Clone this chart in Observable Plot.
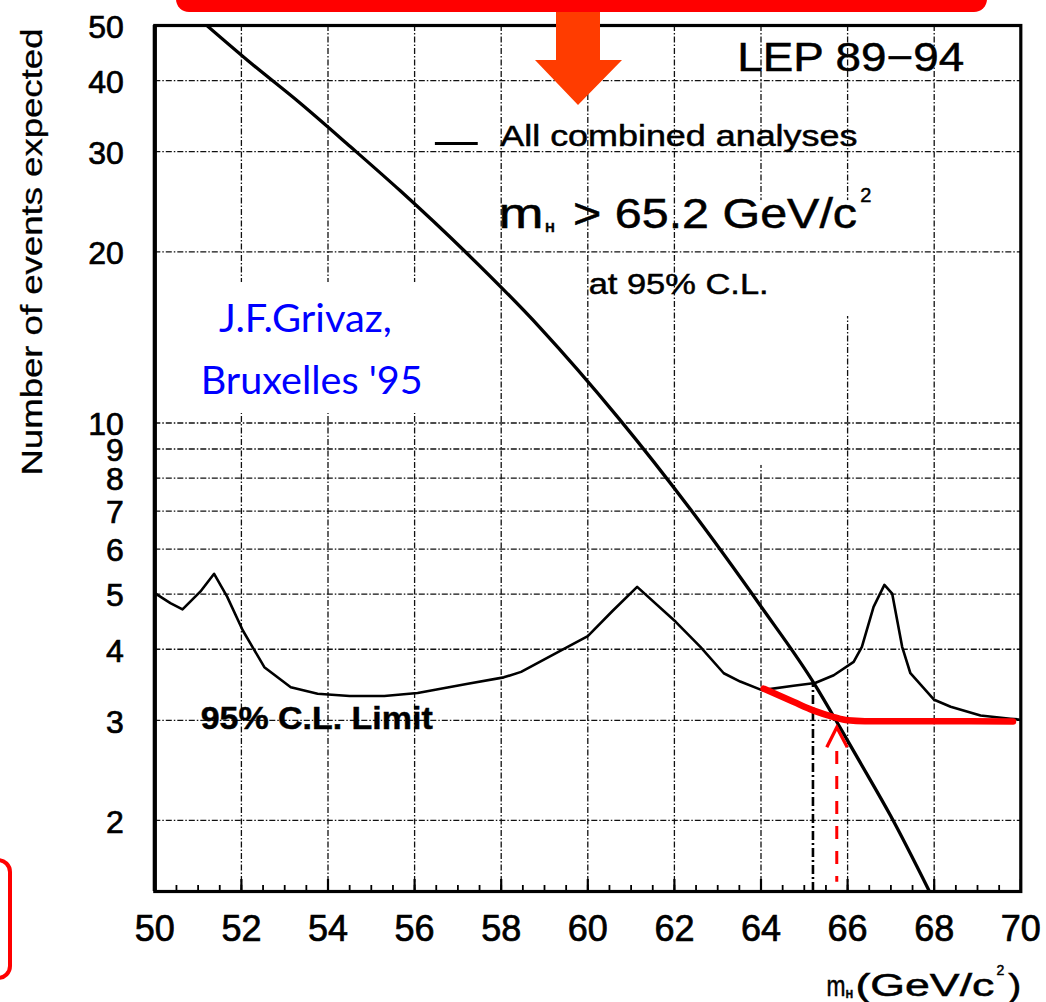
<!DOCTYPE html>
<html>
<head>
<meta charset="utf-8">
<script src="https://cdn.jsdelivr.net/npm/d3@7"></script>
<script src="https://cdn.jsdelivr.net/npm/@observablehq/plot@0.6"></script>
<style>
  html, body { margin: 0; padding: 0; background: #fff; }
  #wrap { position: relative; width: 1046px; height: 1002px; overflow: hidden; }
  #deco { position: absolute; left: 0; top: 0; pointer-events: none; }
  #chart [aria-label$="tick label"] text { stroke: #000; stroke-width: 0.7px; }
  #chart text[aria-label="ytick"] { stroke: #000; stroke-width: 0.7px; }
  #chart text[aria-label^="scan"] { stroke: #000; stroke-width: 0.5px; }
  #chart text[aria-label="scan-ytitle"] { stroke-width: 0.3px; }
</style>
</head>
<body>
<div id="wrap"></div>
<script>
// ---------- data ----------
// x axis: Higgs mass m_H (GeV/c^2)
const xTicks = [50, 52, 54, 56, 58, 60, 62, 64, 66, 68, 70];
const xGrid = [52, 54, 56, 58, 60, 62, 64, 66, 68];
const xMinorTicks = d3.range(50.5, 70, 0.5);
// y axis: number of events expected (log)
const yTicks = [2, 3, 4, 5, 6, 7, 8, 9, 10, 20, 30, 40, 50];
const yGrid = [2, 3, 4, 5, 6, 7, 8, 9, 10, 20, 30, 40];

// "All combined analyses" expected signal events
const expMass   = [51.2, 52.16, 53.36, 54.52, 55.67, 57.17, 58.90, 60.71, 62.37, 63.98, 65.25, 65.83, 66.29, 66.99, 67.91];
const expEvents = [50, 43.3, 36.5, 30.6, 25.6, 20.0, 14.7, 10.2, 7.05, 4.78, 3.46, 2.91, 2.53, 2.04, 1.49];

// 95% C.L. limit curve
const limMass   = [50, 50.36, 50.64, 51.05, 51.37, 51.67, 52.03, 52.53, 53.14, 53.76, 54.5, 55.3, 56.07, 57.23, 58.06, 58.46, 59.46, 60.0, 60.57, 61.14, 62.03, 62.6, 63.14, 63.52, 64.02, 64.75, 65.25, 65.68, 66.14, 66.33, 66.6, 66.85, 67.03, 67.26, 67.45, 68.0, 68.38, 69.07, 69.76, 69.95];
const limEvents = [5.02, 4.82, 4.70, 5.05, 5.43, 4.95, 4.32, 3.72, 3.43, 3.34, 3.31, 3.31, 3.35, 3.48, 3.57, 3.65, 4.01, 4.22, 4.67, 5.15, 4.47, 4.04, 3.63, 3.51, 3.39, 3.45, 3.49, 3.60, 3.80, 4.04, 4.75, 5.19, 5.01, 4.04, 3.63, 3.26, 3.17, 3.06, 3.02, 3.01];

// limit marker
const limitMass = 65.2;
const limitEvents = 3.48;

// red overlay: flattened limit (hand drawn)
const redMass   = [64.06, 64.76, 65.22, 65.68, 66.0, 66.4, 67.5, 68.6, 69.82];
const redEvents = [3.41, 3.23, 3.12, 3.04, 3.0, 2.99, 2.99, 2.99, 2.985];

// red dashed arrow
const arrowMass = 65.75;
const arrowBase = 1.557;
const arrowShaftTop = 2.645;
const arrowTip = 2.917;

// ---------- chart ----------
const expTable = expMass.map((m, i) => ({m, n: expEvents[i]}));
const limTable = limMass.map((m, i) => ({m, n: limEvents[i]}));
const redTable = redMass.map((m, i) => ({m, n: redEvents[i]}));

const stretch = [];
function txt(s, x, y, o = {}) {
  const {width, name, ...rest} = o;
  if (width) stretch.push([name, width]);
  return Plot.text([s], {
    x, y, text: d => d,
    textAnchor: "start", lineAnchor: "bottom",
    fill: "black", ariaLabel: () => name, ...rest
  });
}

const gridStyle = {stroke: "#111", strokeWidth: 1.3, strokeDasharray: "6,2,1.5,2"};
const chevron = {draw(ctx) { ctx.moveTo(-10, 20); ctx.lineTo(0, 0); ctx.lineTo(10.5, 20); }};
const blueFont = "Lato, 'Open Sans', sans-serif";

const chart = Plot.plot({
  width: 1046,
  height: 1002,
  marginLeft: 154.3,
  marginRight: 25.7,
  marginTop: 25,
  marginBottom: 111,
  style: {fontFamily: "'Liberation Sans', Arial, sans-serif", fontSize: "32px", background: "white", color: "black"},
  x: {domain: [50, 70], label: null},
  y: {type: "log", domain: [1.5, 50], label: null, axis: null},
  marks: [
    Plot.ruleX(xGrid, gridStyle),
    // white text-box masks of the original figure
    Plot.rect([0], {x1: 50.09, x2: 57.29, y1: 10.39, y2: 17.66, fill: "white"}),
    Plot.rect([0], {x1: 63.75, x2: 66.52, y1: 15.39, y2: 24.61, fill: "white"}),
    Plot.rect([0], {x1: 63.75, x2: 64.26, y1: 8.42, y2: 15.39, fill: "white"}),
    Plot.ruleY(yGrid, gridStyle),
    Plot.tickX(xMinorTicks, {x: d => d, insetTop: 860, strokeWidth: 1.8}),
    Plot.tickX(xTicks, {x: d => d, insetTop: 854, strokeWidth: 2.2}),
    Plot.frame({stroke: "black", strokeWidth: 3.2}),
    Plot.ruleX([50], {strokeWidth: 4.2}),
    Plot.ruleX([limitMass], {y1: 1.5, y2: limitEvents, strokeWidth: 2.6, strokeDasharray: "9,3,2,3"}),
    Plot.line(expTable, {x: "m", y: "n", strokeWidth: 3.3, curve: "monotone-x", clip: true}),
    Plot.line(limTable, {x: "m", y: "n", strokeWidth: 2.6, clip: true}),

    // original figure texts
    txt("LEP 89\u221294", 63.45, 41.55, {fontSize: 40, width: 227, name: "scan-lep"}),
    Plot.ruleY([31.0], {x1: 56.48, x2: 57.47, strokeWidth: 3}),
    txt("All combined analyses", 57.98, 30.67, {fontSize: 29, width: 357, name: "scan-all"}),
    txt("m", 57.94, 21.98, {fontSize: 42, width: 45, name: "scan-m1"}),
    txt("H", 59.02, 21.71, {fontSize: 13, fontWeight: "bold", name: "scan-h1"}),
    txt("> 65.2 GeV/c", 59.66, 21.98, {fontSize: 42, width: 284, name: "scan-lim"}),
    txt("2", 66.29, 24.42, {fontSize: 20, name: "scan-sup1"}),
    txt("at 95% C.L.", 60.02, 16.87, {fontSize: 30, width: 180, name: "scan-at"}),
    txt("95% C.L. Limit", 51.06, 2.899, {fontSize: 32, fontWeight: "bold", width: 232, name: "scan-cl"}),
    txt("Number of events expected", 47.18, 19.98, {fontSize: 30, width: 447, rotate: -90, textAnchor: "middle", lineAnchor: "middle", name: "scan-ytitle"}),
    txt("m", 65.51, 0.9843, {fontSize: 30, width: 19, name: "scan-m2"}),
    txt("H", 65.96, 0.9765, {fontSize: 10, fontWeight: "bold", name: "scan-h2"}),
    txt("(GeV/c", 66.18, 0.9843, {fontSize: 31, width: 139, name: "scan-unit"}),
    txt("2", 69.44, 1.068, {fontSize: 14, name: "scan-sup2"}),
    txt(")", 69.71, 0.9843, {fontSize: 31, width: 13, name: "scan-paren"}),

    // blue annotation
    txt("J.F.Grivaz,", 51.48, 14.44, {fontSize: 39, fontFamily: blueFont, fill: "#0000ff", width: 173, name: "blue1"}),
    txt("Bruxelles '95", 51.06, 11.25, {fontSize: 39, fontFamily: blueFont, fill: "#0000ff", width: 222, name: "blue2"}),

    // red overlay
    Plot.line(redTable, {x: "m", y: "n", stroke: "#ff0000", strokeWidth: 6.5, curve: "monotone-x"}),
    Plot.ruleX([arrowMass], {y1: arrowShaftTop, y2: arrowBase, stroke: "#ff0000", strokeWidth: 3, strokeDasharray: "13,12"}),
    Plot.dot([arrowTip], {x: arrowMass, y: d => d, symbol: chevron, stroke: "#ff0000", fill: "none", strokeWidth: 3.3}),

    // axes
    Plot.axisX({ticks: xTicks, tickSize: 0, tickPadding: 24, fontSize: 36, tickFormat: d => String(d), label: null}),
    Plot.text(yTicks, {y: d => d, text: d => String(d), frameAnchor: "left", textAnchor: "end", lineAnchor: "middle", dx: -31, dy: 2, fontSize: 32, ariaLabel: () => "ytick"})
  ]
});
chart.id = "chart";

for (const [name, w] of stretch) {
  chart.querySelectorAll(`text[aria-label="${name}"]`).forEach(t => {
    t.setAttribute("textLength", w);
    t.setAttribute("lengthAdjust", "spacingAndGlyphs");
  });
}

const wrap = document.getElementById("wrap");
wrap.appendChild(chart);

// slide decorations (outside the chart)
const ns = "http://www.w3.org/2000/svg";
const deco = document.createElementNS(ns, "svg");
deco.setAttribute("id", "deco");
deco.setAttribute("width", 1046);
deco.setAttribute("height", 1002);
deco.innerHTML = `
  <rect x="176" y="-40" width="811" height="52" rx="13" fill="#ff0000"/>
  <polygon points="556,12 600,12 600,60 622,60 578,105 535,60 556,60" fill="#ff3c00"/>
  <rect x="-40" y="860" width="50" height="118" rx="12" fill="none" stroke="#ff0000" stroke-width="4"/>`;
wrap.appendChild(deco);
</script>
</body>
</html>
